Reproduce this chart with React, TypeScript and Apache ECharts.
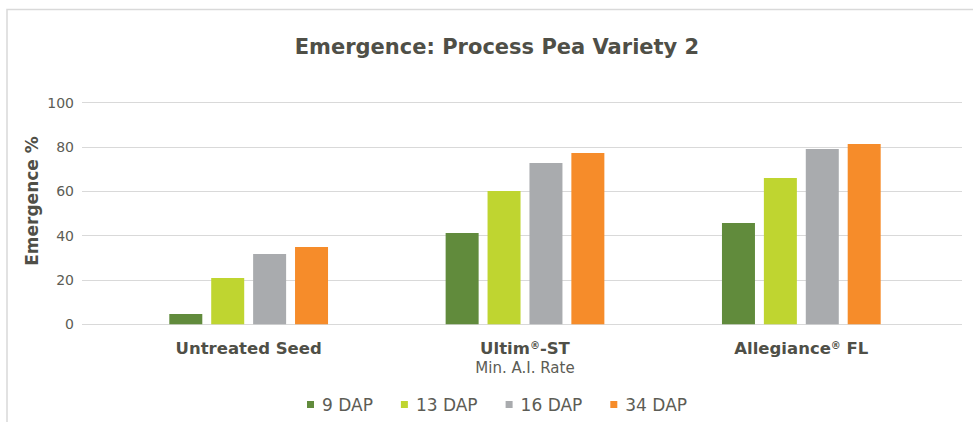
import React, { useEffect, useRef } from "react";
import * as echarts from "echarts";

const categories = ["Untreated Seed", "Ultim®-ST", "Allegiance® FL"];
const seriesNames = ["9 DAP", "13 DAP", "16 DAP", "34 DAP"];
const dap9 = [4.6, 41.2, 45.7];
const dap13 = [20.9, 60.2, 66.0];
const dap16 = [31.7, 72.8, 79.1];
const dap34 = [34.9, 77.3, 81.4];
const seriesColors = ["#618b3c", "#bfd530", "#a9abae", "#f68c2a"];
const yTicks = { min: 0, max: 100, interval: 20 };

const FONT = "DejaVu Sans, sans-serif";
const DARK = "#4f4f47";
const MID = "#5c5c55";

export default function App() {
  const ref = useRef<HTMLDivElement>(null);
  useEffect(() => {
    if (!ref.current) return;
    const chart = echarts.init(ref.current, null, { renderer: "svg" });
    const values = [dap9, dap13, dap16, dap34];
    const top = 102.7;
    const bottom = 97.7;
    chart.setOption({
      animation: false,
      backgroundColor: "#ffffff",
      title: {
        text: "Emergence: Process Pea Variety 2",
        left: 492,
        top: 31,
        textAlign: "center",
        textStyle: { fontFamily: FONT, fontWeight: "bold", fontSize: 21, color: DARK },
      },
      graphic: [
        {
          type: "rect",
          shape: { x: 7, y: 9.5, width: 1000, height: 500 },
          style: { fill: "none", stroke: "#d9d9d9", lineWidth: 1.5 },
          silent: true,
        },
        {
          type: "text",
          x: 32,
          y: 201,
          rotation: Math.PI / 2,
          style: {
            text: "Emergence %",
            fontFamily: FONT,
            fontWeight: "bold",
            fontSize: 17,
            fill: DARK,
            align: "center",
            verticalAlign: "middle",
          },
        },
      ],
      legend: {
        data: seriesNames,
        left: 302,
        top: 391,
        icon: "rect",
        itemWidth: 7,
        itemHeight: 7,
        itemGap: 28,
        textStyle: { fontFamily: FONT, fontSize: 17, color: MID, padding: [0, 0, 0, 3] },
      },
      grid: [
        { left: 82, right: 11, top, bottom },
        { left: 110.5, right: 33.5, top, bottom },
      ],
      xAxis: [
        { type: "value", gridIndex: 0, min: 0, max: 1, show: false },
        {
          type: "category",
          gridIndex: 1,
          data: categories,
          axisLine: { show: false },
          axisTick: { show: false },
          axisLabel: {
            margin: 14,
            interval: 0,
            formatter: (v: string) => {
              if (v === "Ultim®-ST") return "{b|Ultim}{r|®}{b|-ST}\n{s|Min. A.I. Rate}";
              if (v === "Allegiance® FL") return "{b|Allegiance}{r|®}{b| FL}";
              return "{b|" + v + "}";
            },
            rich: {
              b: { fontFamily: FONT, fontWeight: "bold", fontSize: 16.5, color: DARK, lineHeight: 20 },
              r: { fontFamily: FONT, fontWeight: "bold", fontSize: 10, color: DARK, lineHeight: 20, verticalAlign: "top", padding: [2, 0, 0, 0] },
              s: { fontFamily: FONT, fontSize: 15, color: MID, lineHeight: 20 },
            },
          },
        },
      ],
      yAxis: [
        {
          type: "value",
          gridIndex: 0,
          min: yTicks.min,
          max: yTicks.max,
          interval: yTicks.interval,
          axisLine: { show: false },
          axisTick: { show: false },
          axisLabel: { fontFamily: FONT, fontSize: 14, color: MID, margin: 8 },
          splitLine: { lineStyle: { color: "#d9d9d9", width: 1.2 } },
        },
        {
          type: "value",
          gridIndex: 1,
          min: yTicks.min,
          max: yTicks.max,
          interval: yTicks.interval,
          show: false,
          splitLine: { show: false },
        },
      ],
      series: seriesNames.map((name, i) => ({
        name,
        type: "bar",
        xAxisIndex: 1,
        yAxisIndex: 1,
        data: values[i],
        barWidth: 33,
        barGap: "27%",
        itemStyle: { color: seriesColors[i] },
      })),
    });
    return () => chart.dispose();
  }, []);
  return (
    <div
      ref={ref}
      style={{ position: "absolute", left: 0, top: 0, width: 973, height: 422 }}
    />
  );
}
